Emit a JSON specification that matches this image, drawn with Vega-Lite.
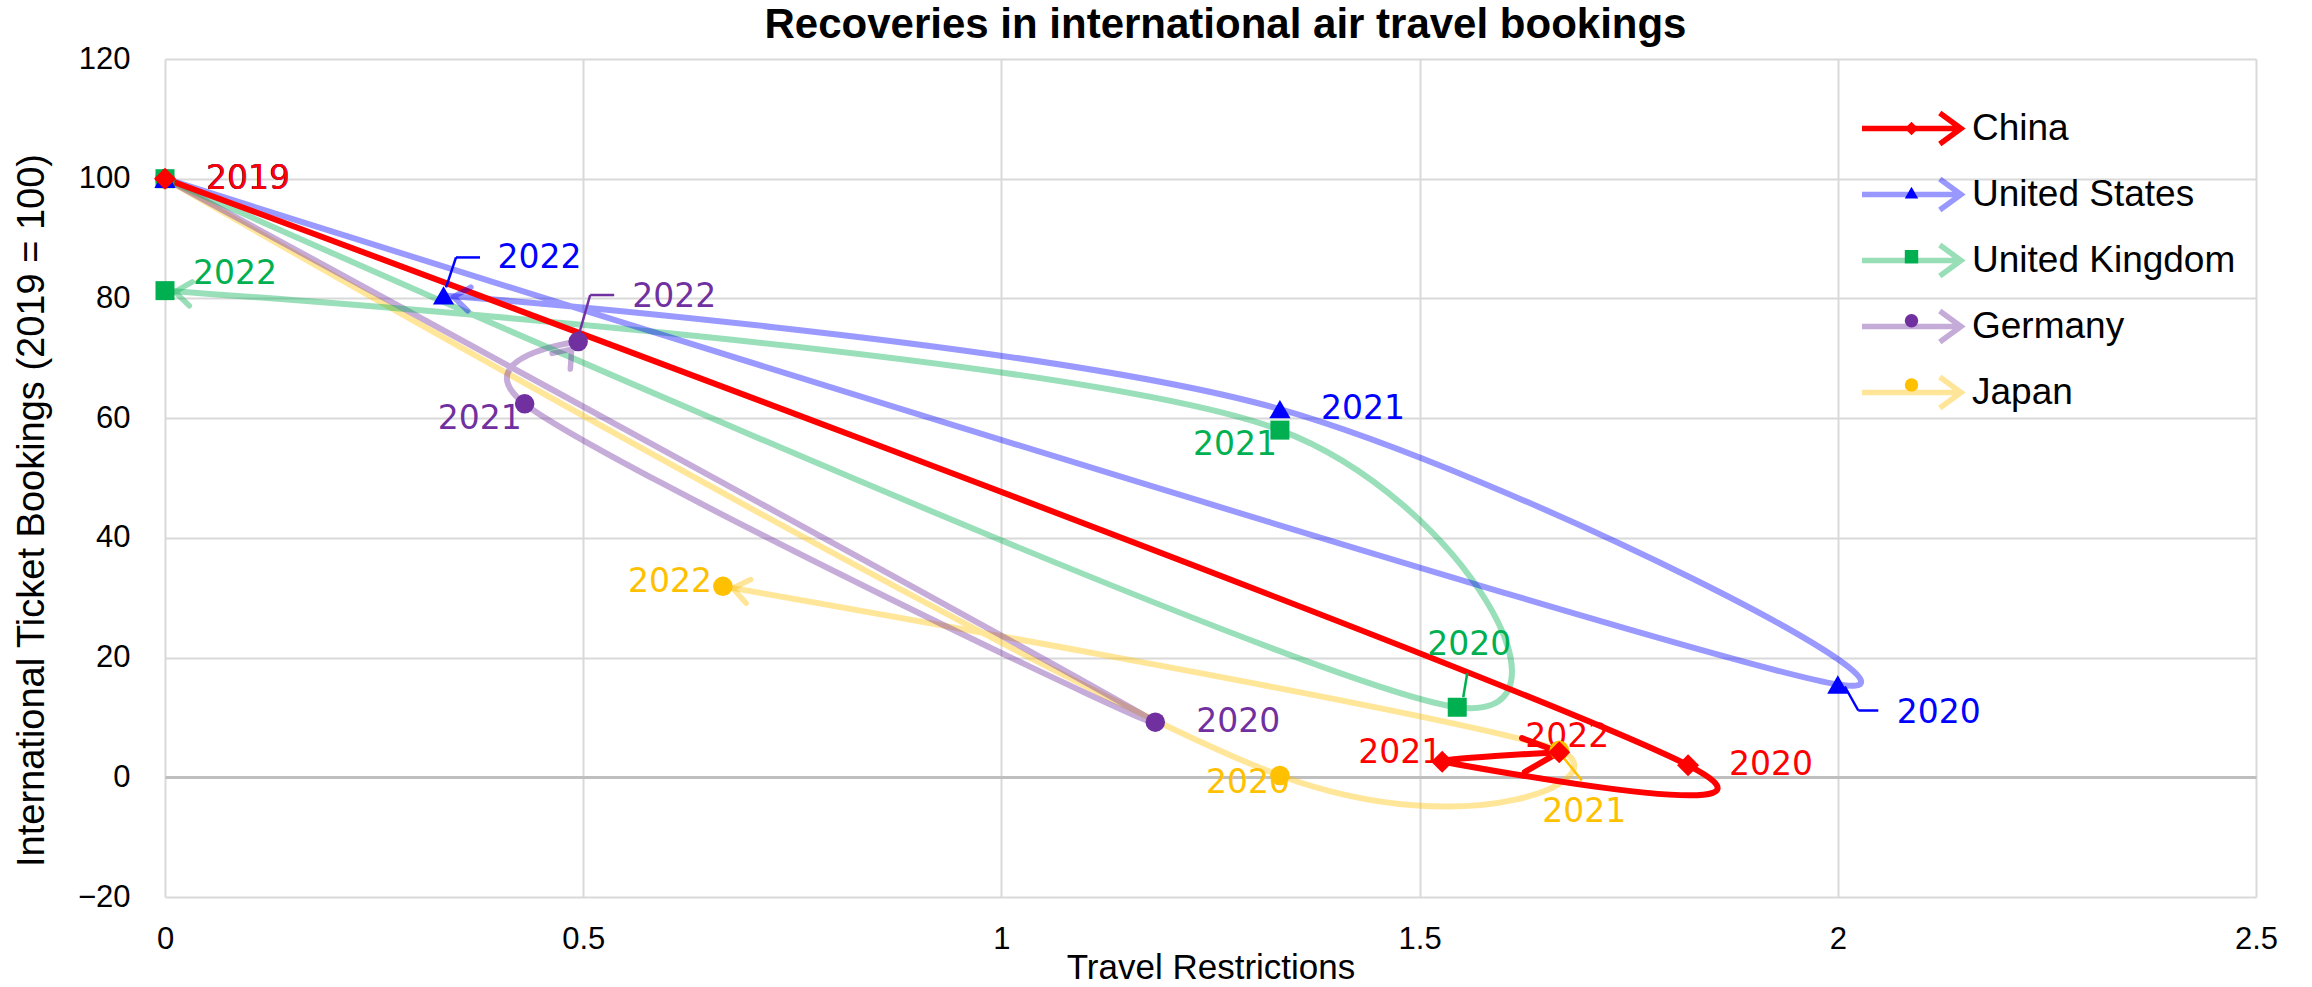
{
  "$schema": "https://vega.github.io/schema/vega-lite/v6.json",
  "width": 2091,
  "height": 838,
  "autosize": {"type": "none"},
  "padding": {"left": 165, "top": 59, "right": 56, "bottom": 90},
  "background": "white",
  "config": {"view": {"stroke": null}, "font": "Liberation Sans"},
  "title": {
    "text": "Recoveries in international air travel bookings",
    "font": "Liberation Sans",
    "fontSize": 42,
    "fontWeight": "bold",
    "color": "#000000",
    "anchor": "middle",
    "frame": "group",
    "dx": 15,
    "dy": 41,
    "offset": 4,
    "baseline": "alphabetic"
  },
  "data": {
    "values": [
      {"country": "Japan", "year": 2019, "restrictions": 0, "bookings": 100},
      {"country": "Japan", "year": 2020, "restrictions": 1.333, "bookings": 0.3},
      {"country": "Japan", "year": 2021, "restrictions": 1.667, "bookings": 4.5},
      {"country": "Japan", "year": 2022, "restrictions": 0.667, "bookings": 31.9},
      {"country": "Germany", "year": 2019, "restrictions": 0, "bookings": 100},
      {"country": "Germany", "year": 2020, "restrictions": 1.184, "bookings": 9.2},
      {"country": "Germany", "year": 2021, "restrictions": 0.43, "bookings": 62.4},
      {"country": "Germany", "year": 2022, "restrictions": 0.494, "bookings": 72.8},
      {"country": "United Kingdom", "year": 2019, "restrictions": 0, "bookings": 100},
      {"country": "United Kingdom", "year": 2020, "restrictions": 1.545, "bookings": 11.7},
      {"country": "United Kingdom", "year": 2021, "restrictions": 1.333, "bookings": 58.0},
      {"country": "United Kingdom", "year": 2022, "restrictions": 0, "bookings": 81.3},
      {"country": "United States", "year": 2019, "restrictions": 0, "bookings": 100},
      {"country": "United States", "year": 2020, "restrictions": 2.0, "bookings": 15.5},
      {"country": "United States", "year": 2021, "restrictions": 1.333, "bookings": 61.5},
      {"country": "United States", "year": 2022, "restrictions": 0.333, "bookings": 80.5},
      {"country": "China", "year": 2019, "restrictions": 0, "bookings": 100},
      {"country": "China", "year": 2020, "restrictions": 1.821, "bookings": 2.0},
      {"country": "China", "year": 2021, "restrictions": 1.527, "bookings": 2.6},
      {"country": "China", "year": 2022, "restrictions": 1.667, "bookings": 4.2}
    ]
  },
  "encoding": {
    "x": {
      "field": "restrictions",
      "type": "quantitative",
      "scale": {"domain": [0, 2.5], "nice": false, "zero": false},
      "axis": {
        "title": "Travel Restrictions",
        "values": [0, 0.5, 1, 1.5, 2, 2.5],
        "format": "~g",
        "grid": true,
        "gridColor": "#D9D9D9",
        "gridWidth": 2,
        "domain": false,
        "ticks": false,
        "tickSize": 0,
        "labelPadding": 27,
        "labelFlush": false,
        "labelOverlap": false,
        "labelFont": "Liberation Sans",
        "labelFontSize": 31,
        "labelColor": "#000000",
        "titleFont": "Liberation Sans",
        "titleFontSize": 35,
        "titleFontWeight": "normal",
        "titleColor": "#000000",
        "titlePadding": -4
      }
    },
    "y": {
      "field": "bookings",
      "type": "quantitative",
      "scale": {"domain": [-20, 120], "nice": false, "zero": false},
      "axis": {
        "title": "International Ticket Bookings (2019 = 100)",
        "values": [-20, 0, 20, 40, 60, 80, 100, 120],
        "format": "d",
        "grid": true,
        "gridColor": {"condition": {"test": "datum.value === 0", "value": "#BFBFBF"}, "value": "#D9D9D9"},
        "gridWidth": {"condition": {"test": "datum.value === 0", "value": 3}, "value": 2},
        "domain": false,
        "ticks": false,
        "tickSize": 0,
        "labelPadding": 35,
        "labelFlush": false,
        "labelOverlap": false,
        "labelFont": "Liberation Sans",
        "labelFontSize": 31,
        "labelColor": "#000000",
        "titleFont": "Liberation Sans",
        "titleFontSize": 38,
        "titleFontWeight": "normal",
        "titleColor": "#000000",
        "titlePadding": 26,
        "titleY": 451
      }
    }
  },
  "layer": [
    {
      "mark": {"type": "line", "interpolate": "catmull-rom", "tension": 0.12, "strokeWidth": 6, "strokeCap": "round", "strokeJoin": "round"},
      "encoding": {
        "order": {"field": "year", "type": "ordinal"},
        "stroke": {
          "field": "country",
          "type": "nominal",
          "scale": {"domain": ["China", "Germany", "Japan", "United Kingdom", "United States"], "range": ["#FF0000", "#7030A0", "#FFC000", "#00B050", "#0000FF"]},
          "legend": {
            "orient": "none",
            "legendX": 1728,
            "legendY": 51,
            "title": null,
            "values": ["China", "United States", "United Kingdom", "Germany", "Japan"],
            "symbolType": "M-7,0L7,0M4,-2.2L7,0L4,2.2",
            "symbolSize": 200,
            "symbolStrokeWidth": 5.5,
            "symbolFillColor": "transparent",
            "labelFont": "Liberation Sans",
            "labelFontSize": 37,
            "labelColor": "#000000",
            "labelLimit": 500,
            "labelOffset": 42,
            "rowPadding": 11,
            "padding": 0
          }
        },
        "opacity": {
          "field": "country",
          "type": "nominal",
          "scale": {"type": "ordinal", "domain": ["China", "Germany", "Japan", "United Kingdom", "United States"], "range": [1, 0.4, 0.4, 0.4, 0.4]}
        }
      }
    },
    {
      "transform": [
        {"window": [{"op": "lag", "field": "restrictions", "as": "prevX"}, {"op": "lag", "field": "bookings", "as": "prevY"}], "groupby": ["country"], "sort": [{"field": "year", "order": "ascending"}]},
        {"filter": "datum.year === 2022 && datum.country !== 'China'"},
        {"calculate": "atan2(scale('y', datum.bookings) - scale('y', datum.prevY), scale('x', datum.restrictions) - scale('x', datum.prevX)) * 180 / PI", "as": "arrowAngle"}
      ],
      "mark": {"type": "point", "filled": false, "shape": "M-1.3,-0.6L-0.5,0L-1.3,0.6", "size": 1600, "strokeWidth": 5.5, "strokeCap": "round", "strokeJoin": "round"},
      "encoding": {
        "angle": {"field": "arrowAngle", "type": "quantitative", "scale": null},
        "stroke": {"field": "country", "type": "nominal", "scale": {"domain": ["China", "Germany", "Japan", "United Kingdom", "United States"], "range": ["#FF0000", "#7030A0", "#FFC000", "#00B050", "#0000FF"]}},
        "opacity": {"field": "country", "type": "nominal", "scale": {"type": "ordinal", "domain": ["China", "Germany", "Japan", "United Kingdom", "United States"], "range": [1, 0.4, 0.4, 0.4, 0.4]}}
      }
    },
    {
      "transform": [
        {"window": [{"op": "lag", "field": "restrictions", "as": "prevX"}, {"op": "lag", "field": "bookings", "as": "prevY"}], "groupby": ["country"], "sort": [{"field": "year", "order": "ascending"}]},
        {"filter": "datum.year === 2022 && datum.country === 'China'"},
        {"calculate": "atan2(scale('y', datum.bookings) - scale('y', datum.prevY), scale('x', datum.restrictions) - scale('x', datum.prevX)) * 180 / PI", "as": "arrowAngle"}
      ],
      "mark": {"type": "point", "filled": false, "shape": "M-1.8,-0.85L0,0L-1.8,0.85", "size": 1600, "strokeWidth": 6, "strokeCap": "round", "strokeJoin": "round"},
      "encoding": {
        "angle": {"field": "arrowAngle", "type": "quantitative", "scale": null},
        "stroke": {"field": "country", "type": "nominal", "scale": {"domain": ["China", "Germany", "Japan", "United Kingdom", "United States"], "range": ["#FF0000", "#7030A0", "#FFC000", "#00B050", "#0000FF"]}},
        "opacity": {"field": "country", "type": "nominal", "scale": {"type": "ordinal", "domain": ["China", "Germany", "Japan", "United Kingdom", "United States"], "range": [1, 0.4, 0.4, 0.4, 0.4]}}
      }
    },
    {
      "transform": [{"filter": "datum.year === 2019 || (datum.country === 'China' && datum.year === 2020) || (datum.country === 'United States' && datum.year === 2021) || (datum.country === 'Germany' && datum.year === 2020)"}],
      "mark": {"type": "text", "align": "left", "baseline": "middle", "dx": 41, "dy": 0, "font": "DejaVu Sans", "fontSize": 33},
      "encoding": {"text": {"field": "year", "type": "nominal"}, "color": {"field": "country", "type": "nominal", "scale": {"domain": ["Japan", "Germany", "United Kingdom", "United States", "China"], "range": ["#FFC000", "#7030A0", "#00B050", "#0000FF", "#FF0000"]}, "legend": null}}
    },
    {
      "transform": [{"filter": "datum.country === 'United Kingdom' && datum.year === 2022"}],
      "mark": {"type": "text", "align": "left", "baseline": "middle", "dx": 28, "dy": -17, "font": "DejaVu Sans", "fontSize": 33},
      "encoding": {"text": {"field": "year", "type": "nominal"}, "color": {"field": "country", "type": "nominal", "scale": {"domain": ["Japan", "Germany", "United Kingdom", "United States", "China"], "range": ["#FFC000", "#7030A0", "#00B050", "#0000FF", "#FF0000"]}, "legend": null}}
    },
    {
      "transform": [{"filter": "datum.country === 'China' && datum.year === 2021"}],
      "mark": {"type": "text", "align": "right", "baseline": "middle", "dx": 0, "dy": -9, "font": "DejaVu Sans", "fontSize": 33},
      "encoding": {"text": {"field": "year", "type": "nominal"}, "color": {"field": "country", "type": "nominal", "scale": {"domain": ["Japan", "Germany", "United Kingdom", "United States", "China"], "range": ["#FFC000", "#7030A0", "#00B050", "#0000FF", "#FF0000"]}, "legend": null}}
    },
    {
      "transform": [{"filter": "(datum.country === 'United Kingdom' || datum.country === 'Germany') && datum.year === 2021"}],
      "mark": {"type": "text", "align": "right", "baseline": "middle", "dx": -3, "dy": 15, "font": "DejaVu Sans", "fontSize": 33},
      "encoding": {"text": {"field": "year", "type": "nominal"}, "color": {"field": "country", "type": "nominal", "scale": {"domain": ["Japan", "Germany", "United Kingdom", "United States", "China"], "range": ["#FFC000", "#7030A0", "#00B050", "#0000FF", "#FF0000"]}, "legend": null}}
    },
    {
      "transform": [{"filter": "datum.country === 'Japan' && datum.year === 2020"}],
      "mark": {"type": "text", "align": "right", "baseline": "middle", "dx": 10, "dy": 8, "font": "DejaVu Sans", "fontSize": 33},
      "encoding": {"text": {"field": "year", "type": "nominal"}, "color": {"field": "country", "type": "nominal", "scale": {"domain": ["Japan", "Germany", "United Kingdom", "United States", "China"], "range": ["#FFC000", "#7030A0", "#00B050", "#0000FF", "#FF0000"]}, "legend": null}}
    },
    {
      "transform": [{"filter": "datum.country === 'Japan' && datum.year === 2022"}],
      "mark": {"type": "text", "align": "right", "baseline": "middle", "dx": -11, "dy": -4, "font": "DejaVu Sans", "fontSize": 33},
      "encoding": {"text": {"field": "year", "type": "nominal"}, "color": {"field": "country", "type": "nominal", "scale": {"domain": ["Japan", "Germany", "United Kingdom", "United States", "China"], "range": ["#FFC000", "#7030A0", "#00B050", "#0000FF", "#FF0000"]}, "legend": null}}
    },
    {
      "transform": [{"filter": "datum.country === 'China' && datum.year === 2022"}],
      "mark": {"type": "text", "align": "center", "baseline": "middle", "dx": 8, "dy": -15, "font": "DejaVu Sans", "fontSize": 33},
      "encoding": {"text": {"field": "year", "type": "nominal"}, "color": {"field": "country", "type": "nominal", "scale": {"domain": ["Japan", "Germany", "United Kingdom", "United States", "China"], "range": ["#FFC000", "#7030A0", "#00B050", "#0000FF", "#FF0000"]}, "legend": null}}
    },
    {
      "transform": [{"filter": "datum.country === 'United Kingdom' && datum.year === 2020"}],
      "mark": {"type": "text", "align": "center", "baseline": "middle", "dx": 12, "dy": -62, "font": "DejaVu Sans", "fontSize": 33},
      "encoding": {"text": {"field": "year", "type": "nominal"}, "color": {"field": "country", "type": "nominal", "scale": {"domain": ["Japan", "Germany", "United Kingdom", "United States", "China"], "range": ["#FFC000", "#7030A0", "#00B050", "#0000FF", "#FF0000"]}, "legend": null}}
    },
    {
      "transform": [{"filter": "datum.country === 'United States' && datum.year === 2020"}],
      "mark": {"type": "text", "align": "left", "baseline": "middle", "dx": 59, "dy": 28, "font": "DejaVu Sans", "fontSize": 33},
      "encoding": {"text": {"field": "year", "type": "nominal"}, "color": {"field": "country", "type": "nominal", "scale": {"domain": ["Japan", "Germany", "United Kingdom", "United States", "China"], "range": ["#FFC000", "#7030A0", "#00B050", "#0000FF", "#FF0000"]}, "legend": null}}
    },
    {
      "transform": [{"filter": "datum.country === 'United States' && datum.year === 2022"}],
      "mark": {"type": "text", "align": "left", "baseline": "middle", "dx": 54, "dy": -37, "font": "DejaVu Sans", "fontSize": 33},
      "encoding": {"text": {"field": "year", "type": "nominal"}, "color": {"field": "country", "type": "nominal", "scale": {"domain": ["Japan", "Germany", "United Kingdom", "United States", "China"], "range": ["#FFC000", "#7030A0", "#00B050", "#0000FF", "#FF0000"]}, "legend": null}}
    },
    {
      "transform": [{"filter": "datum.country === 'Germany' && datum.year === 2022"}],
      "mark": {"type": "text", "align": "left", "baseline": "middle", "dx": 54, "dy": -45, "font": "DejaVu Sans", "fontSize": 33},
      "encoding": {"text": {"field": "year", "type": "nominal"}, "color": {"field": "country", "type": "nominal", "scale": {"domain": ["Japan", "Germany", "United Kingdom", "United States", "China"], "range": ["#FFC000", "#7030A0", "#00B050", "#0000FF", "#FF0000"]}, "legend": null}}
    },
    {
      "transform": [{"filter": "datum.country === 'Japan' && datum.year === 2021"}],
      "mark": {"type": "text", "align": "center", "baseline": "middle", "dx": 25, "dy": 62, "font": "DejaVu Sans", "fontSize": 33},
      "encoding": {"text": {"field": "year", "type": "nominal"}, "color": {"field": "country", "type": "nominal", "scale": {"domain": ["Japan", "Germany", "United Kingdom", "United States", "China"], "range": ["#FFC000", "#7030A0", "#00B050", "#0000FF", "#FF0000"]}, "legend": null}}
    },
    {
      "transform": [{"filter": "datum.country === 'United States' && datum.year === 2020"}],
      "mark": {"type": "rule", "color": "#0000FF", "strokeWidth": 2.5, "xOffset": 7, "yOffset": 2, "x2Offset": 20.5, "y2Offset": 26},
      "encoding": {"x2": {"field": "restrictions"}, "y2": {"field": "bookings"}}
    },
    {
      "transform": [{"filter": "datum.country === 'United States' && datum.year === 2020"}],
      "mark": {"type": "rule", "color": "#0000FF", "strokeWidth": 2.5, "xOffset": 20.5, "yOffset": 26, "x2Offset": 40.5, "y2Offset": 26},
      "encoding": {"x2": {"field": "restrictions"}, "y2": {"field": "bookings"}}
    },
    {
      "transform": [{"filter": "datum.country === 'United States' && datum.year === 2022"}],
      "mark": {"type": "rule", "color": "#0000FF", "strokeWidth": 2.5, "xOffset": 2.5, "yOffset": -8, "x2Offset": 12.5, "y2Offset": -38},
      "encoding": {"x2": {"field": "restrictions"}, "y2": {"field": "bookings"}}
    },
    {
      "transform": [{"filter": "datum.country === 'United States' && datum.year === 2022"}],
      "mark": {"type": "rule", "color": "#0000FF", "strokeWidth": 2.5, "xOffset": 12.5, "yOffset": -38, "x2Offset": 36.5, "y2Offset": -38},
      "encoding": {"x2": {"field": "restrictions"}, "y2": {"field": "bookings"}}
    },
    {
      "transform": [{"filter": "datum.country === 'Germany' && datum.year === 2022"}],
      "mark": {"type": "rule", "color": "#7030A0", "strokeWidth": 2.5, "xOffset": 0, "yOffset": -4.5, "x2Offset": 12, "y2Offset": -46.5},
      "encoding": {"x2": {"field": "restrictions"}, "y2": {"field": "bookings"}}
    },
    {
      "transform": [{"filter": "datum.country === 'Germany' && datum.year === 2022"}],
      "mark": {"type": "rule", "color": "#7030A0", "strokeWidth": 2.5, "xOffset": 12, "yOffset": -46.5, "x2Offset": 36, "y2Offset": -46.5},
      "encoding": {"x2": {"field": "restrictions"}, "y2": {"field": "bookings"}}
    },
    {
      "transform": [{"filter": "datum.country === 'United Kingdom' && datum.year === 2020"}],
      "mark": {"type": "rule", "color": "#00B050", "strokeWidth": 2.5, "xOffset": 6, "yOffset": -10, "x2Offset": 10, "y2Offset": -34},
      "encoding": {"x2": {"field": "restrictions"}, "y2": {"field": "bookings"}}
    },
    {
      "transform": [{"filter": "datum.country === 'Japan' && datum.year === 2021"}],
      "mark": {"type": "rule", "color": "#FFC000", "strokeWidth": 2.5, "xOffset": 0, "yOffset": 2, "x2Offset": 22.5, "y2Offset": 30},
      "encoding": {"x2": {"field": "restrictions"}, "y2": {"field": "bookings"}}
    },
    {
      "mark": {"type": "point", "filled": true, "opacity": 1, "strokeWidth": 0},
      "encoding": {
        "shape": {
          "field": "country",
          "type": "nominal",
          "scale": {"domain": ["China", "United States", "United Kingdom", "Germany", "Japan"], "range": ["diamond", "triangle-up", "square", "circle", "circle"]},
          "legend": {
            "orient": "none",
            "legendX": 1728,
            "legendY": 51,
            "title": null,
            "symbolSize": 180,
            "symbolStrokeWidth": 0,
            "labelFont": "Liberation Sans",
            "labelFontSize": 37,
            "labelLimit": 500,
            "labelOffset": 42,
            "labelOpacity": 0,
            "labelExpr": "''",
            "rowPadding": 26.1,
            "padding": 0
          }
        },
        "fill": {
          "field": "country",
          "type": "nominal",
          "scale": {"domain": ["China", "United States", "United Kingdom", "Germany", "Japan"], "range": ["#FF0000", "#0000FF", "#00B050", "#7030A0", "#FFC000"]}
        },
        "size": {
          "field": "country",
          "type": "nominal",
          "scale": {"type": "ordinal", "domain": ["Germany", "Japan", "United Kingdom", "United States", "China"], "range": [380, 380, 361, 450, 484]},
          "legend": null
        }
      }
    }
  ]
}
